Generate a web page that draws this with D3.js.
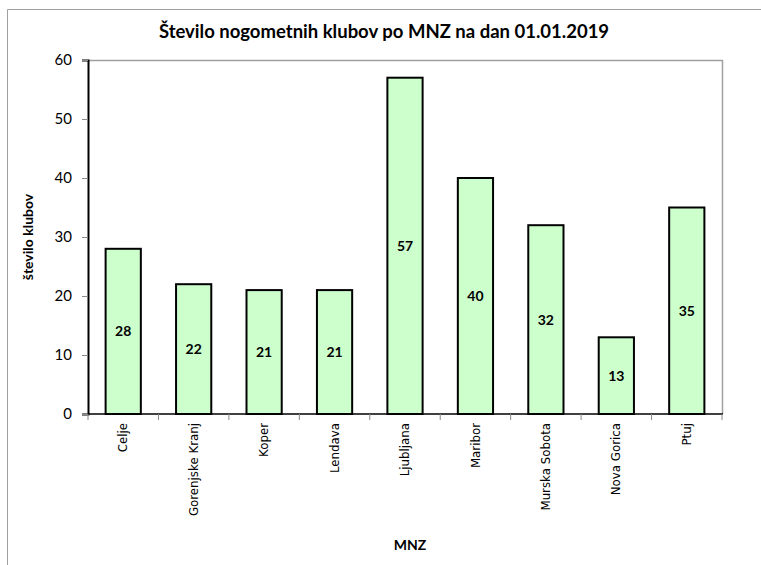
<!DOCTYPE html>
<html><head><meta charset="utf-8">
<script src="https://cdn.jsdelivr.net/npm/d3@7"></script>
<style>body{margin:0;background:#fff}</style>
</head><body>
<svg id="c" width="761" height="565"></svg>
<script>
const categories = ["Celje","Gorenjske Kranj","Koper","Lendava","Ljubljana","Maribor","Murska Sobota","Nova Gorica","Ptuj"];
const values = [28,22,21,21,57,40,32,13,35];
const yTicks = [0,10,20,30,40,50,60];
const title = "Število nogometnih klubov po MNZ na dan 01.01.2019";
const yTitle = "število klubov";
const xTitle = "MNZ";

const svg = d3.select("#c");
const L = 88, T = 60, R = 722, B = 414;
const x = d3.scaleBand().domain(categories).range([L, R]).paddingInner(0.5).paddingOuter(0.25);
const y = d3.scaleLinear().domain([0, 60]).range([B, T]);

// outer frame
svg.append("path").attr("d", "M7.5,570V9.5H770").attr("fill","none").attr("stroke","#a0a0a0").attr("stroke-width",1);

// plot frame top/right
svg.append("path").attr("d", `M${L},${T+0.5}H${R+0.5}V${B}`).attr("fill","none").attr("stroke","#a0a0a0").attr("stroke-width",1.5);

// bars
svg.selectAll("rect.bar").data(values).join("rect").attr("class","bar")
  .attr("x",(d,i)=>x(categories[i])).attr("width",x.bandwidth())
  .attr("y",d=>y(d)).attr("height",d=>B-y(d))
  .attr("fill","#ccffcc").attr("stroke","#000").attr("stroke-width",2);

// bar labels
svg.selectAll("text.vl").data(values).join("text").attr("class","vl")
  .attr("x",(d,i)=>x(categories[i])+x.bandwidth()/2)
  .attr("y",d=>(y(d)+B)/2).attr("dy","0.35em")
  .attr("text-anchor","middle").attr("font-family","Lato, sans-serif")
  .attr("font-weight","bold").attr("font-size",14).text(d=>d);

// y axis
const ya = svg.append("g").attr("transform",`translate(${L},0)`)
  .call(d3.axisLeft(y).tickValues(yTicks).tickSize(6).tickPadding(10));
ya.select(".domain").attr("stroke","#000").attr("stroke-width",2);
ya.selectAll(".tick line").attr("stroke","#888");
ya.selectAll(".tick text").attr("font-family","Lato, sans-serif").attr("font-size",15).attr("fill","#000");

// x axis
const xa = svg.append("g").attr("transform",`translate(0,${B})`)
  .call(d3.axisBottom(x).tickSize(0).tickPadding(0));
xa.select(".domain").remove();
xa.append("line").attr("x1",L).attr("x2",R+1).attr("stroke","#000").attr("stroke-width",1.5);
xa.selectAll("line.sep").data(d3.range(categories.length+1)).join("line").attr("class","sep")
  .attr("x1",i=>L+i*(R-L)/categories.length).attr("x2",i=>L+i*(R-L)/categories.length)
  .attr("y1",0).attr("y2",6).attr("stroke","#888");
xa.selectAll(".tick text")
  .attr("transform","rotate(-90)").attr("text-anchor","end")
  .attr("x",-9).attr("y",0).attr("dy","0.35em")
  .attr("font-family","DejaVu Sans, sans-serif").attr("font-size",11.8).attr("fill","#000");

// titles
svg.append("text").attr("x",384).attr("y",38).attr("text-anchor","middle")
  .attr("font-family","Lato, sans-serif").attr("font-weight","bold").attr("font-size",18.5).text(title);
svg.append("text").attr("transform",`translate(33,${(T+B)/2}) rotate(-90)`).attr("text-anchor","middle")
  .attr("font-family","Lato, sans-serif").attr("font-weight","bold").attr("font-size",14).text(yTitle);
svg.append("text").attr("x",410).attr("y",550).attr("text-anchor","middle")
  .attr("font-family","Lato, sans-serif").attr("font-weight","bold").attr("font-size",14).text(xTitle);
</script>
</body></html>
